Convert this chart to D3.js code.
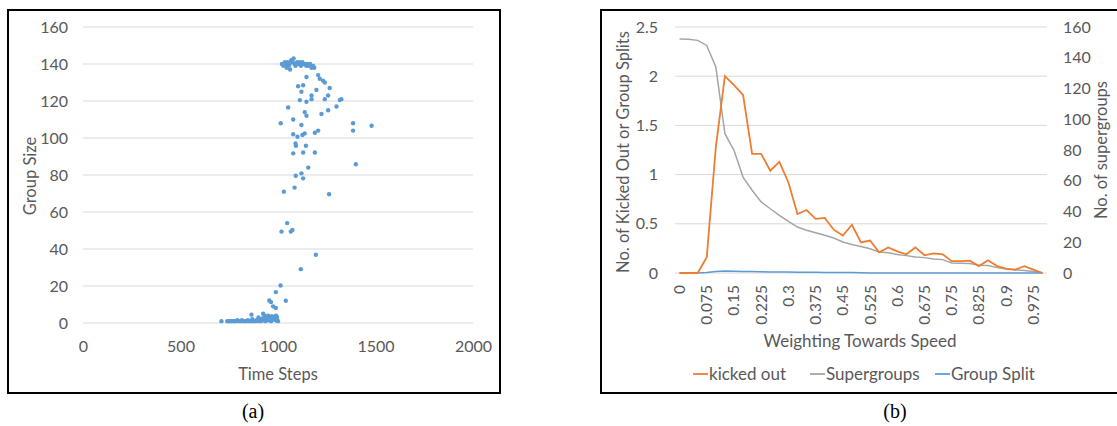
<!DOCTYPE html>
<html>
<head>
<meta charset="utf-8">
<script src="https://cdn.jsdelivr.net/npm/d3@7"></script>
<style>
    body { margin: 0; background: #fff; }
    text { font-family: Lato, "Liberation Sans", sans-serif; fill: #595959; }
    .caption { font-family: "Liberation Serif", serif; fill: #000; font-size: 20px; }
</style>
</head>
<body>
<div id="chart"></div>
<script>

/* * * * * * * * * * * * * *
*          data            *
* * * * * * * * * * * * * */

// (a) scatter: time step vs group size
let timeSteps = [
    1020, 1028, 1035, 1040, 1045, 1050, 1055, 1060, 1062, 1068, 1075, 1080, 1085, 1090,
    1098, 1105, 1110, 1118, 1125, 1130, 1138, 1145, 1150, 1158, 1165, 1172, 1180, 1186,
    1146, 1206, 1214, 1231, 1240, 1265, 1103, 1129, 1120, 1172, 1257, 1197, 1112, 1146,
    1172, 1240, 1317, 1325, 1300, 1052, 1137, 1146, 1223, 1257, 1078, 1014, 1385, 1385,
    1480, 1120, 1137, 1125, 1078, 1100, 1189, 1206, 1090, 1092, 1143, 1078, 1129, 1189,
    1155, 1399, 1091, 1120, 1129, 1085, 1030, 1262, 1047, 1018, 1066, 1074, 1194, 1117,
    1013, 989, 955, 964, 1040, 975, 989, 864, 924, 932, 967, 710,
    740, 748, 755, 762, 770, 778, 785, 792, 800, 808, 815, 822, 830, 838, 845, 852,
    860, 868, 875, 882, 890, 898, 905, 912, 920, 928, 935, 942, 950, 958, 965, 972,
    980, 988, 995, 1000, 900, 920, 940, 960, 980, 995, 950, 970, 990
];
let groupSizes = [
    140, 139, 141, 140, 138, 141, 139, 140, 137, 142, 141, 143, 140, 139,
    141, 140, 141, 139, 141, 140, 140, 139, 140, 139, 140, 138, 139, 138,
    133, 134, 132, 131, 130, 127, 128, 128.5, 125, 123, 123, 126, 120.5, 119.6,
    121, 121, 120.5, 121, 117, 116.5, 114, 112, 113, 115, 110, 108, 108, 104,
    106.6, 107, 102.5, 101.6, 102, 100.7, 102.8, 104, 97, 95.8, 95.8, 91.7, 92.2, 92.2,
    84, 85.8, 79.6, 80.9, 78.2, 73.2, 71, 69.6, 54, 49.4, 49.4, 50.3, 36.9, 29.1,
    20.3, 16.7, 12.2, 11.3, 12, 9, 8.1, 4.5, 5, 4, 3.6, 1,
    1, 1, 1, 1, 1, 1, 1, 1.5, 1, 1, 1.5, 1, 1, 1, 1.5, 1,
    1, 2, 1, 1, 1.5, 1, 2, 1, 1.5, 2, 1, 2, 1.5, 2, 1, 2.5,
    2, 1.5, 2, 1, 3, 2.5, 3, 2.5, 3, 3, 4, 3.5, 4
];
let timeTicks = [0, 500, 1000, 1500, 2000];
let sizeTicks = [0, 20, 40, 60, 80, 100, 120, 140, 160];

// (b) lines: weighting towards speed
let weightings = [
    "0", "0.025", "0.05", "0.075", "0.1", "0.125", "0.15", "0.175", "0.2", "0.225",
    "0.25", "0.275", "0.3", "0.325", "0.35", "0.375", "0.4", "0.425", "0.45", "0.475",
    "0.5", "0.525", "0.55", "0.575", "0.6", "0.625", "0.65", "0.675", "0.7", "0.725",
    "0.75", "0.775", "0.8", "0.825", "0.85", "0.875", "0.9", "0.925", "0.95", "0.975", "1"
];
let kickedOut = [
    0, 0, 0, 0.16, 1.28, 2.0, 1.91, 1.81, 1.21, 1.21,
    1.04, 1.13, 0.92, 0.60, 0.64, 0.55, 0.56, 0.44, 0.38, 0.49,
    0.31, 0.33, 0.21, 0.26, 0.22, 0.19, 0.26, 0.18, 0.20, 0.19,
    0.12, 0.12, 0.125, 0.07, 0.13, 0.07, 0.044, 0.034, 0.07, 0.034, 0
];
let supergroups = [
    152.2, 152, 151.3, 148, 134, 90.6, 79.8, 62.4, 53.8, 46.2,
    41.8, 37.5, 33.6, 29.9, 27.8, 26.2, 24.5, 22.8, 20.2, 18.6,
    17.3, 15.8, 13.7, 13.2, 12.1, 11.3, 10.4, 10, 9.1, 8.7,
    6.5, 6.3, 6.1, 5, 4.8, 3.5, 2.6, 2, 1.7, 0.9, 0.2
];
let groupSplit = [
    0, 0, 0, 0.005, 0.015, 0.02, 0.018, 0.015, 0.015, 0.012,
    0.01, 0.01, 0.01, 0.008, 0.008, 0.008, 0.006, 0.006, 0.004, 0.004,
    0.002, 0, 0, 0, 0, 0, 0, 0, 0, 0,
    0, 0, 0, 0, 0, 0, 0, 0, 0, 0, 0
];
let leftTicks = [0, 0.5, 1, 1.5, 2, 2.5];
let leftTickLabels = ["0", "0.5", "1", "1.5", "2", "2.5"];
let rightTicks = [0, 20, 40, 60, 80, 100, 120, 140, 160];
let shownWeightings = ["0", "0.075", "0.15", "0.225", "0.3", "0.375", "0.45", "0.525",
    "0.6", "0.675", "0.75", "0.825", "0.9", "0.975"];
let seriesNames = ["kicked out", "Supergroups", "Group Split"];

let colors = {orange: "#ED7D31", gray: "#A5A5A5", blue: "#5B9BD5", grid: "#D9D9D9"};

let svg = d3.select("#chart").append("svg")
    .attr("width", 1117)
    .attr("height", 426);

// small helper, same styling for every axis label
function styleTicks(g, size) {
    g.select(".domain").remove();
    g.selectAll("text")
        .style("font-size", size + "px")
        .style("font-family", "Lato")
        .attr("fill", "#595959");
}

/* * * * * * * * * * * * * *
*     (a) scatter plot     *
* * * * * * * * * * * * * */

let a = svg.append("g");

a.append("rect")
    .attr("x", 8).attr("y", 10)
    .attr("width", 492).attr("height", 383)
    .attr("fill", "none").attr("stroke", "#000").attr("stroke-width", 2);

let xA = d3.scaleLinear().domain([0, 2000]).range([83, 473]);
let yA = d3.scaleLinear().domain([0, 160]).range([323, 27]);

// gridlines
a.append("g").selectAll("line")
    .data(sizeTicks)
    .enter().append("line")
    .attr("x1", xA(0)).attr("x2", xA(2000))
    .attr("y1", d => yA(d)).attr("y2", d => yA(d))
    .attr("stroke", colors.grid).attr("stroke-width", 1);

// y axis
a.append("g")
    .attr("transform", "translate(" + (xA(0) - 15) + ",0)")
    .call(d3.axisLeft(yA).tickValues(sizeTicks).tickSize(0).tickPadding(0))
    .call(g => styleTicks(g, 16));

// x axis
a.append("g")
    .attr("transform", "translate(0," + (yA(0) + 18) + ")")
    .call(d3.axisBottom(xA).tickValues(timeTicks).tickFormat(d3.format("d")).tickSize(0).tickPadding(0))
    .call(g => styleTicks(g, 16));

a.append("text")
    .attr("x", 278).attr("y", 380)
    .attr("text-anchor", "middle")
    .style("font-size", "16.5px")
    .text("Time Steps");

a.append("text")
    .attr("transform", "translate(36,176) rotate(-90)")
    .attr("text-anchor", "middle")
    .style("font-size", "16.5px")
    .text("Group Size");

// points
a.append("g").selectAll("circle")
    .data(timeSteps.map((t, i) => ({t: t, s: groupSizes[i]})))
    .enter().append("circle")
    .attr("cx", d => xA(d.t))
    .attr("cy", d => yA(d.s))
    .attr("r", 2.2)
    .attr("fill", colors.blue);

a.append("text")
    .attr("class", "caption")
    .attr("x", 253).attr("y", 418)
    .attr("text-anchor", "middle")
    .text("(a)");

/* * * * * * * * * * * * * *
*      (b) line chart      *
* * * * * * * * * * * * * */

let b = svg.append("g");

b.append("rect")
    .attr("x", 601).attr("y", 10)
    .attr("width", 520).attr("height", 383)
    .attr("fill", "none").attr("stroke", "#000").attr("stroke-width", 2);

let xB = d3.scaleBand().domain(weightings).range([675, 1047]);
let yLeft = d3.scaleLinear().domain([0, 2.5]).range([273, 27]);
let yRight = d3.scaleLinear().domain([0, 160]).range([273, 27]);
let cx = d => xB(d) + xB.bandwidth() / 2;

b.append("g").selectAll("line")
    .data(leftTicks)
    .enter().append("line")
    .attr("x1", 675).attr("x2", 1047)
    .attr("y1", d => yLeft(d)).attr("y2", d => yLeft(d))
    .attr("stroke", colors.grid).attr("stroke-width", 1);

b.append("g")
    .attr("transform", "translate(658,0)")
    .call(d3.axisLeft(yLeft).tickValues(leftTicks).tickFormat((d, i) => leftTickLabels[i]).tickSize(0).tickPadding(0))
    .call(g => styleTicks(g, 16));

b.append("g")
    .attr("transform", "translate(1063,0)")
    .call(d3.axisRight(yRight).tickValues(rightTicks).tickSize(0).tickPadding(0))
    .call(g => styleTicks(g, 16));

// rotated category labels
b.append("g").selectAll("text")
    .data(shownWeightings)
    .enter().append("text")
    .attr("transform", d => "translate(" + cx(d) + ",285) rotate(-90)")
    .attr("dy", "0.35em")
    .attr("text-anchor", "end")
    .style("font-size", "15.5px")
    .text(d => d);

b.append("text")
    .attr("x", 860).attr("y", 347)
    .attr("text-anchor", "middle")
    .style("font-size", "17px")
    .text("Weighting Towards Speed");

b.append("text")
    .attr("transform", "translate(629,152) rotate(-90)")
    .attr("text-anchor", "middle")
    .style("font-size", "16.5px")
    .text("No. of Kicked Out or Group Splits");

b.append("text")
    .attr("transform", "translate(1107,150) rotate(-90)")
    .attr("text-anchor", "middle")
    .style("font-size", "16.5px")
    .text("No. of supergroups");

// lines
let lineLeft = d3.line()
    .x((d, i) => cx(weightings[i]))
    .y(d => yLeft(d));
let lineRight = d3.line()
    .x((d, i) => cx(weightings[i]))
    .y(d => yRight(d));

b.append("path").datum(supergroups)
    .attr("d", lineRight)
    .attr("fill", "none").attr("stroke", colors.gray).attr("stroke-width", 1.5);
b.append("path").datum(groupSplit)
    .attr("d", lineLeft)
    .attr("fill", "none").attr("stroke", colors.blue).attr("stroke-width", 1.5);
b.append("path").datum(kickedOut)
    .attr("d", lineLeft)
    .attr("fill", "none").attr("stroke", colors.orange).attr("stroke-width", 1.8);

// legend
let legendX = [693, 810, 935];
let legendColors = [colors.orange, colors.gray, colors.blue];
let legend = b.append("g").selectAll("g")
    .data(seriesNames)
    .enter().append("g")
    .attr("transform", (d, i) => "translate(" + legendX[i] + ",374)");
legend.append("line")
    .attr("x1", 0).attr("x2", 15)
    .attr("stroke", (d, i) => legendColors[i]).attr("stroke-width", 1.8);
legend.append("text")
    .attr("x", 16).attr("dy", "0.35em")
    .style("font-size", "17px")
    .text(d => d);

b.append("text")
    .attr("class", "caption")
    .attr("x", 895).attr("y", 418)
    .attr("text-anchor", "middle")
    .text("(b)");

</script>
</body>
</html>
